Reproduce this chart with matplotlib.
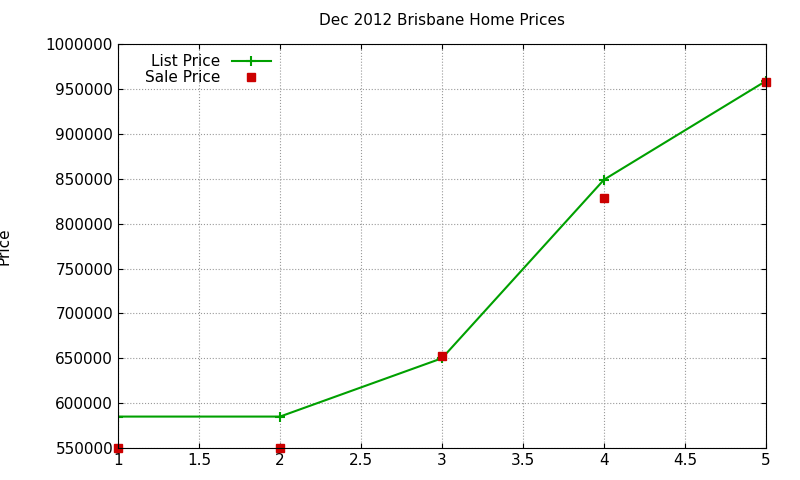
import matplotlib
matplotlib.use("Agg")
from matplotlib import pyplot as plt

months = [1, 2, 3, 4, 5]
list_price = [585000, 585000, 650000, 849000, 959000]
sale_price = [550000, 550000, 652000, 829000, 958000]
yticks = list(range(550000, 1000001, 50000))

fig = plt.figure(figsize=(8, 4.8), dpi=100)
ax = fig.add_axes([0.1475, 0.0667, 0.81, 0.8413])

ax.plot(months, list_price, color="#00a000", lw=1.5, marker="+", ms=7, mew=1.5, label="List Price")
ax.plot(months, sale_price, ls="none", marker="s", ms=6, color="#cc0000", label="Sale Price", clip_on=False)

ax.set_xlim(1, 5)
ax.set_ylim(550000, 1000000)
ax.set_xticks([1, 1.5, 2, 2.5, 3, 3.5, 4, 4.5, 5])
ax.set_xticklabels(["1", "1.5", "2", "2.5", "3", "3.5", "4", "4.5", "5"])
ax.set_yticks(yticks)
ax.set_yticklabels([str(v) for v in yticks])
ax.tick_params(direction="in", top=True, right=True, labelsize=11)
ax.grid(True, ls=":", color="#999999", lw=0.8)
ax.set_ylabel("Price", fontsize=11)
ax.yaxis.set_label_coords(-0.165, 0.5)
ax.set_title("Dec 2012 Brisbane Home Prices", fontsize=11, pad=14)
ax.legend(loc="upper left", frameon=False, markerfirst=False, fontsize=11,
          bbox_to_anchor=(0.02, 1.01), handlelength=2.5, labelspacing=0.1)

fig.savefig("out.png")
